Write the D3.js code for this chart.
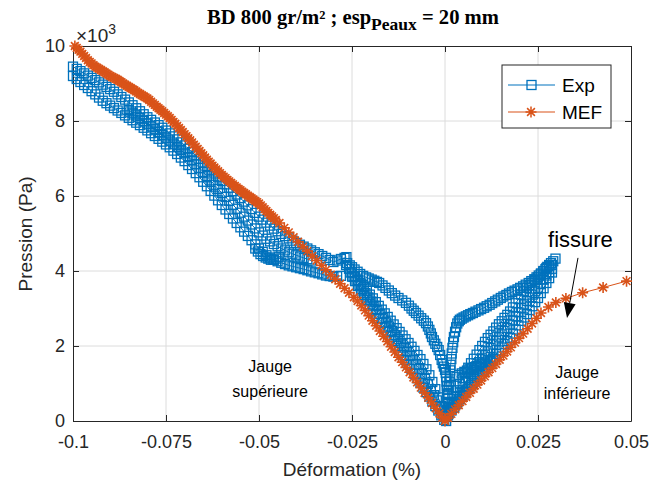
<!DOCTYPE html>
<html><head><meta charset="utf-8">
<script src="https://cdn.jsdelivr.net/npm/d3@7"></script>
<style>body{margin:0;background:#fff}</style>
</head><body>
<svg id="c" width="670" height="491"></svg>
<script>
// ---------------- DATA ----------------
const xTicks = [-0.1, -0.075, -0.05, -0.025, 0, 0.025, 0.05];
const xTickLabels = ["-0.1", "-0.075", "-0.05", "-0.025", "0", "0.025", "0.05"];
const yTicks = [0, 2000, 4000, 6000, 8000, 10000];
const yTickLabels = ["0", "2", "4", "6", "8", "10"];
const seriesNames = ["Exp", "MEF"];

// MEF (x in %, pressure in Pa)
const mef = [
[-0.0995,10000],[-0.0990,9950],[-0.0985,9900],[-0.0980,9850],[-0.0975,9790],[-0.0970,9735],[-0.0965,9680],[-0.0960,9620],
[-0.0955,9575],[-0.0950,9535],[-0.0945,9490],[-0.0940,9450],[-0.0935,9420],[-0.0930,9390],[-0.0925,9360],[-0.0920,9330],
[-0.0915,9300],[-0.0910,9265],[-0.0905,9235],[-0.0900,9200],[-0.0895,9175],[-0.0890,9150],[-0.0885,9125],[-0.0880,9100],
[-0.0875,9065],[-0.0870,9035],[-0.0865,9000],[-0.0860,8970],[-0.0855,8940],[-0.0850,8910],[-0.0845,8880],[-0.0840,8850],
[-0.0835,8820],[-0.0830,8785],[-0.0825,8750],[-0.0820,8720],[-0.0815,8690],[-0.0810,8660],[-0.0805,8630],[-0.0800,8600],
[-0.0795,8560],[-0.0790,8515],[-0.0785,8470],[-0.0780,8430],[-0.0775,8380],[-0.0770,8340],[-0.0765,8300],[-0.0760,8260],
[-0.0755,8215],[-0.0750,8170],[-0.0745,8125],[-0.0740,8080],[-0.0735,8030],[-0.0730,7975],[-0.0725,7925],[-0.0720,7870],
[-0.0715,7815],[-0.0710,7760],[-0.0705,7705],[-0.0700,7650],[-0.0695,7595],[-0.0690,7540],[-0.0685,7485],[-0.0680,7430],
[-0.0675,7370],[-0.0670,7315],[-0.0665,7255],[-0.0660,7200],[-0.0655,7140],[-0.0650,7085],[-0.0645,7025],[-0.0640,6970],
[-0.0635,6915],[-0.0630,6865],[-0.0625,6810],[-0.0620,6760],[-0.0615,6710],[-0.0610,6660],[-0.0605,6610],[-0.0600,6560],
[-0.0595,6515],[-0.0590,6475],[-0.0585,6430],[-0.0580,6390],[-0.0575,6350],[-0.0570,6310],[-0.0565,6270],[-0.0560,6230],
[-0.0555,6190],[-0.0550,6155],[-0.0545,6115],[-0.0540,6080],[-0.0535,6045],[-0.0530,6010],[-0.0525,5975],[-0.0520,5940],
[-0.0515,5905],[-0.0510,5870],[-0.0505,5835],[-0.0500,5800],[-0.0495,5750],[-0.0490,5700],[-0.0485,5650],[-0.0480,5600],
[-0.0475,5550],[-0.0470,5500],[-0.0465,5455],[-0.0460,5410],[-0.0455,5360],
[-0.0445,5280],[-0.0432,5150],[-0.0420,5030],[-0.0407,4900],[-0.0395,4780],[-0.0382,4650],[-0.0370,4530],[-0.0357,4400],
[-0.0345,4280],[-0.0332,4150],[-0.0320,4030],[-0.0307,3900],[-0.0295,3780],[-0.0282,3660],[-0.0270,3540],[-0.0258,3420],
[-0.0245,3300],[-0.0235,3200],[-0.0225,3080],[-0.0215,2950],[-0.0205,2810],[-0.0195,2675],[-0.0185,2540],[-0.0175,2400],
[-0.0165,2260],[-0.0155,2120],[-0.0145,1980],[-0.0135,1840],[-0.0125,1700],[-0.0115,1570],[-0.0105,1430],[-0.0095,1300],
[-0.0085,1160],[-0.0075,1030],[-0.0065,890],[-0.0055,750],[-0.0045,620],[-0.0035,480],[-0.0025,340],[-0.0015,200],
[-0.0007,90],[0,0],
[0.0008,80],[0.0017,190],[0.0027,310],[0.0037,420],[0.0047,530],[0.0057,640],[0.0067,750],[0.0077,860],[0.0087,970],
[0.0097,1080],[0.0107,1190],[0.0117,1300],[0.0127,1410],[0.0137,1520],[0.0147,1635],[0.0157,1745],[0.0167,1855],
[0.0177,1965],[0.0188,2090],[0.0199,2210],[0.0210,2330],[0.0222,2460],[0.0234,2600],[0.0246,2740],[0.0258,2880],
[0.0278,3040],[0.0298,3160],[0.0325,3270],[0.0370,3420],[0.0425,3560],[0.0488,3730]
];

// Exp: successive passes of the measured loading cycles (x in %, pressure in Pa)
const expUpperA = [
[-0.100,9450],[-0.099,9390],[-0.098,9330],[-0.097,9270],[-0.096,9210],[-0.095,9150],[-0.094,9090],[-0.093,9030],
[-0.092,8970],[-0.091,8910],[-0.090,8850],[-0.089,8780],[-0.088,8710],[-0.087,8640],[-0.086,8570],[-0.085,8495],
[-0.084,8420],[-0.083,8340],[-0.082,8260],[-0.081,8180],[-0.080,8100],[-0.079,8030],[-0.078,7960],[-0.077,7890],
[-0.076,7820],[-0.075,7745],[-0.074,7670],[-0.073,7590],[-0.072,7510],[-0.071,7430],[-0.070,7350],[-0.069,7260],
[-0.068,7170],[-0.067,7080],[-0.066,6990],[-0.065,6895],[-0.064,6800],[-0.063,6700],[-0.062,6600],[-0.061,6500],
[-0.060,6400],[-0.059,6310],[-0.058,6220],[-0.057,6130],[-0.056,6040],[-0.055,5945],[-0.054,5850],[-0.053,5750],
[-0.052,5650],[-0.051,5550],[-0.050,5450],[-0.049,5370],[-0.048,5290],[-0.047,5210],[-0.046,5130],[-0.045,5060],
[-0.044,4990],[-0.043,4930],[-0.042,4870],[-0.041,4810],[-0.040,4750],[-0.039,4700],[-0.038,4650],[-0.037,4600],
[-0.036,4550],[-0.035,4500],[-0.034,4450],[-0.033,4400],[-0.032,4350],[-0.031,4295],[-0.030,4240],[-0.029,4280],
[-0.028,4320],[-0.027,4350],[-0.0265,4370]
];
const expUpperB = [
[-0.100,9200],[-0.099,9120],[-0.098,9040],[-0.097,8960],[-0.096,8880],[-0.095,8795],[-0.094,8710],[-0.093,8625],
[-0.092,8540],[-0.091,8475],[-0.090,8410],[-0.089,8345],[-0.088,8280],[-0.087,8215],[-0.086,8150],[-0.085,8085],
[-0.084,8020],[-0.083,7955],[-0.082,7890],[-0.081,7820],[-0.080,7750],[-0.079,7675],[-0.078,7600],[-0.077,7525],
[-0.076,7450],[-0.075,7375],[-0.074,7300],[-0.073,7210],[-0.072,7120],[-0.071,7025],[-0.070,6930],[-0.069,6825],
[-0.068,6720],[-0.067,6610],[-0.066,6500],[-0.065,6380],[-0.064,6260],[-0.063,6135],[-0.062,6010],[-0.061,5885],
[-0.060,5760],[-0.059,5640],[-0.058,5520],[-0.057,5400],[-0.056,5280],[-0.055,5165],[-0.054,5050],[-0.053,4935],
[-0.052,4820],[-0.051,4710],[-0.050,4600],[-0.049,4510],[-0.048,4420],[-0.047,4360],[-0.046,4300],[-0.045,4260],
[-0.044,4220],[-0.043,4185],[-0.042,4150],[-0.041,4125],[-0.040,4100],[-0.039,4075],[-0.038,4050],[-0.037,4020],
[-0.036,3990],[-0.035,3965],[-0.034,3940],[-0.033,3910],[-0.032,3880],[-0.031,3865],[-0.030,3850],[-0.029,3860],
[-0.028,3870]
];
const expUpperC = [
[-0.085,8290],[-0.084,8220],[-0.083,8150],[-0.082,8075],[-0.081,8000],[-0.080,7930],[-0.079,7855],[-0.078,7780],
[-0.077,7705],[-0.076,7630],[-0.075,7555],[-0.074,7480],[-0.073,7395],[-0.072,7310],[-0.071,7225],[-0.070,7140],
[-0.069,7045],[-0.068,6950],[-0.067,6850],[-0.066,6750],[-0.065,6640],[-0.064,6530],[-0.063,6415],[-0.062,6300],
[-0.061,6190],[-0.060,6080],[-0.059,5975],[-0.058,5870],[-0.057,5765],[-0.056,5660],[-0.055,5555],[-0.054,5450],
[-0.053,5345],[-0.052,5240],[-0.051,5135],[-0.050,5030],[-0.049,4945],[-0.048,4860],[-0.047,4790],[-0.046,4720],
[-0.045,4660],[-0.044,4600],[-0.043,4550],[-0.042,4500],[-0.041,4460],[-0.040,4420],[-0.039,4385],[-0.038,4350],
[-0.037,4315],[-0.036,4280]
];
const expBlob = [
[-0.0510,4600],[-0.0503,4520],[-0.0496,4450],[-0.0489,4400],[-0.0482,4360],[-0.0475,4330],[-0.0468,4300],
[-0.0461,4300],[-0.0454,4330],[-0.0447,4380]
];
const expDescentA = [
[-0.0250,3850],[-0.0242,3730],[-0.0234,3600],[-0.0226,3480],[-0.0218,3360],[-0.0210,3230],[-0.0202,3110],
[-0.0194,2990],[-0.0186,2860],[-0.0178,2740],[-0.0170,2620],[-0.0162,2490],[-0.0154,2370],[-0.0146,2250],
[-0.0138,2130],[-0.0130,2000],[-0.0122,1880],[-0.0114,1760],[-0.0106,1630],[-0.0098,1510],[-0.0090,1390],
[-0.0082,1260],[-0.0074,1140],[-0.0066,1020],[-0.0058,890],[-0.0050,770],[-0.0042,650],[-0.0034,520],
[-0.0026,400],[-0.0018,280],[-0.0010,150],[-0.0002,30]
];
const expDescentB = [
[-0.0254,3960],[-0.0246,3850],[-0.0238,3740],[-0.0230,3630],[-0.0222,3520],[-0.0214,3410],[-0.0206,3295],
[-0.0198,3185],[-0.0190,3075],[-0.0182,2960],[-0.0174,2850],[-0.0166,2740],[-0.0158,2630],[-0.0150,2520],
[-0.0142,2405],[-0.0134,2290],[-0.0126,2185],[-0.0118,2075],[-0.0110,1960],[-0.0102,1850],[-0.0094,1740],
[-0.0086,1625],[-0.0078,1510],[-0.0070,1390],[-0.0062,1255],[-0.0054,1125],[-0.0046,985],[-0.0038,845],
[-0.0030,690],[-0.0022,550],[-0.0014,370],[-0.0006,185]
];
const expDescentC = [
[-0.0266,4160],[-0.0258,4060],[-0.0250,3960],[-0.0242,3865],[-0.0234,3765],[-0.0226,3665],[-0.0218,3570],
[-0.0210,3470],[-0.0202,3370],[-0.0194,3270],[-0.0186,3170],[-0.0178,3070],[-0.0170,2970],[-0.0162,2870],
[-0.0154,2775],[-0.0146,2675],[-0.0138,2575],[-0.0130,2475],[-0.0122,2375],[-0.0114,2280],[-0.0106,2180],
[-0.0098,2080],[-0.0090,1980],[-0.0082,1870],[-0.0074,1760],[-0.0066,1650],[-0.0058,1520],[-0.0050,1380],
[-0.0042,1220],[-0.0034,1040],[-0.0026,850],[-0.0018,630],[-0.0010,400],[-0.0003,160]
];
const expOuter = [
[-0.0263,4210],[-0.0256,4150],[-0.0250,4100],[-0.0243,4040],[-0.0235,3980],[-0.0228,3920],[-0.0220,3870],
[-0.0212,3830],[-0.0205,3800],[-0.0197,3770],[-0.0190,3740],[-0.0183,3710],[-0.0177,3680],[-0.0168,3615],
[-0.0160,3550],[-0.0151,3480],[-0.0143,3410],[-0.0134,3345],[-0.0125,3280],[-0.0115,3215],[-0.0105,3150],
[-0.0097,3075],[-0.0090,3000],[-0.0084,2940],[-0.0078,2880],[-0.0071,2810],[-0.0064,2740],[-0.0057,2675],
[-0.0051,2610],[-0.0046,2520],[-0.0042,2430],[-0.0038,2335],[-0.0035,2240],[-0.0030,2150],[-0.0026,2060],
[-0.0021,1975],[-0.0017,1890],[-0.0013,1760],[-0.0009,1630],[-0.0006,1540],[-0.0003,1450],[0.0000,1365],
[0.0002,1280],[0.0003,1165],[0.0004,1050],[0.0005,940],[0.0005,830],[0.0007,715],[0.0008,600],[0.0009,485],
[0.0010,370],[0.0009,260],[0.0008,150],[0.0003,0]
];
const expRightLoop = [
[0.0003,150],[0.0005,300],[0.0007,450],[0.0008,600],[0.0009,750],[0.0010,900],[0.0012,1050],[0.0013,1200],
[0.0014,1350],[0.0015,1500],[0.0017,1650],[0.0018,1800],[0.0020,1950],[0.0022,2100],[0.0024,2240],[0.0027,2380],
[0.0030,2500],[0.0033,2600],[0.0037,2660],[0.0040,2700],[0.0045,2730],[0.0050,2760],[0.0056,2790],[0.0062,2820],
[0.0068,2850],[0.0075,2880],[0.0082,2915],[0.0090,2950],[0.0097,2985],[0.0105,3020],[0.0112,3060],[0.0120,3100],
[0.0127,3145],[0.0135,3190],[0.0142,3235],[0.0150,3280],[0.0157,3320],[0.0165,3360],[0.0172,3400],[0.0180,3440],
[0.0187,3475],[0.0195,3510],[0.0202,3550],[0.0210,3590],[0.0217,3635],[0.0225,3680],[0.0232,3730],[0.0240,3780],
[0.0246,3830],[0.0252,3880],[0.0258,3935],[0.0264,3990],[0.0270,4050],[0.0275,4110],[0.0280,4160],[0.0285,4210],
[0.0291,4260],[0.0297,4330]
];
const expRightA = [
[0.0010,300],[0.00175,480],[0.0025,660],[0.00325,820],[0.0040,980],[0.00475,1140],[0.0055,1290],[0.00625,1420],
[0.0070,1540],[0.00775,1660],[0.0085,1770],[0.00925,1890],[0.0100,2000],[0.01075,2110],[0.0115,2210],[0.01225,2300],
[0.0130,2390],[0.01375,2490],[0.0145,2580],[0.01525,2660],[0.0160,2750],[0.01675,2830],[0.0175,2920],[0.01825,3030],
[0.0190,3140],[0.01975,3250],[0.0205,3370],[0.02125,3460],[0.0220,3550],[0.02275,3620],[0.0235,3690],[0.02425,3760],
[0.0250,3830],[0.02575,3910],[0.0265,4000],[0.02725,4080],[0.0280,4130],[0.02875,4160]
];
const expRightB = [
[0.0010,250],[0.00175,380],[0.0025,510],[0.00325,640],[0.0040,780],[0.00475,910],[0.0055,1030],[0.00625,1140],
[0.0070,1250],[0.00775,1360],[0.0085,1460],[0.00925,1570],[0.0100,1670],[0.01075,1770],[0.0115,1860],[0.01225,1950],
[0.0130,2040],[0.01375,2140],[0.0145,2230],[0.01525,2310],[0.0160,2400],[0.01675,2480],[0.0175,2570],[0.01825,2680],
[0.0190,2790],[0.01975,2900],[0.0205,3020],[0.02125,3110],[0.0220,3200],[0.02275,3290],[0.0235,3370],[0.02425,3460],
[0.0250,3550],[0.02575,3660],[0.0265,3770],[0.02725,3880],[0.0280,3970],[0.02875,4060]
];
const expRightC = [
[0.0010,200],[0.00175,280],[0.0025,360],[0.00325,460],[0.0040,580],[0.00475,680],[0.0055,770],[0.00625,860],
[0.0070,960],[0.00775,1060],[0.0085,1160],[0.00925,1250],[0.0100,1340],[0.01075,1430],[0.0115,1510],[0.01225,1600],
[0.0130,1690],[0.01375,1790],[0.0145,1880],[0.01525,1960],[0.0160,2050],[0.01675,2130],[0.0175,2220],[0.01825,2330],
[0.0190,2440],[0.01975,2550],[0.0205,2670],[0.02125,2760],[0.0220,2850],[0.02275,2960],[0.0235,3060],[0.02425,3170],
[0.0250,3280],[0.02575,3410],[0.0265,3540],[0.02725,3680],[0.0280,3810],[0.02875,3960]
];
const expTail = [
[0.0010,250],[0.0017,330],[0.0024,420],[0.0031,500],[0.0038,590],[0.0045,680],[0.0052,760],[0.0059,840],
[0.0066,920],[0.0073,1000],[0.0080,1080],[0.0087,1160],[0.0094,1240],[0.0101,1320],[0.0108,1400],[0.0115,1480],
[0.0122,1560],[0.0129,1650],[0.0122,1620],[0.0115,1590],[0.0108,1560],[0.0101,1530],[0.0094,1500],[0.0087,1470],
[0.0080,1440],[0.0073,1410],[0.0066,1380],[0.0059,1345],[0.0052,1310],[0.0045,1270],[0.0038,1230],[0.0031,1180]
];
const expSegments = [expUpperA, expUpperB, expUpperC, expBlob, expDescentA, expDescentB, expDescentC,
  expOuter, expRightLoop, expRightA, expRightB, expRightC, expTail];

// ---------------- DRAW ----------------
const blue = "#0072BD", orange = "#D95319", axisCol = "#262626";
const font = "'Liberation Sans', Arial, Helvetica, sans-serif";
const svg = d3.select("#c");
const x = d3.scaleLinear().domain([-0.1, 0.05]).range([73, 631]);
const y = d3.scaleLinear().domain([0, 10000]).range([421, 46]);

svg.append("rect").attr("width", 670).attr("height", 491).attr("fill", "#fff");

// grid
const grid = svg.append("g").attr("stroke", "#dcdcdc").attr("stroke-width", 1);
grid.selectAll(".gx").data(xTicks.slice(1, -1)).join("line")
  .attr("x1", d => x(d)).attr("x2", d => x(d)).attr("y1", y(0)).attr("y2", y(10000));
grid.selectAll(".gy").data(yTicks.slice(1, -1)).join("line")
  .attr("y1", d => y(d)).attr("y2", d => y(d)).attr("x1", x(-0.1)).attr("x2", x(0.05));

// axes
function styleAxis(g) {
  g.selectAll("path,line").attr("stroke", axisCol);
  g.selectAll("text").attr("fill", "#262626").style("font-family", font).style("font-size", "18px");
}
svg.append("g").attr("transform", `translate(0,${y(0)})`)
  .call(d3.axisBottom(x).tickValues(xTicks).tickFormat((d, i) => xTickLabels[i]).tickSizeInner(-6).tickSizeOuter(0).tickPadding(14))
  .call(styleAxis);
svg.append("g").attr("transform", `translate(0,${y(10000)})`)
  .call(d3.axisTop(x).tickValues(xTicks).tickFormat("").tickSizeInner(-6).tickSizeOuter(0))
  .call(styleAxis);
svg.append("g").attr("transform", `translate(${x(-0.1)},0)`)
  .call(d3.axisLeft(y).tickValues(yTicks).tickFormat((d, i) => yTickLabels[i]).tickSizeInner(-6).tickSizeOuter(0).tickPadding(8))
  .call(styleAxis);
svg.append("g").attr("transform", `translate(${x(0.05)},0)`)
  .call(d3.axisRight(y).tickValues(yTicks).tickFormat("").tickSizeInner(-6).tickSizeOuter(0))
  .call(styleAxis);

// exponent
const ex = svg.append("text").attr("x", x(-0.1) + 3).attr("y", y(10000) - 4)
  .style("font-family", font).style("font-size", "19px").attr("fill", "#262626");
ex.append("tspan").text("\u00d710");
ex.append("tspan").attr("dy", -8).style("font-size", "14px").text("3");

const line = d3.line().x(d => x(d[0])).y(d => y(d[1]));
const starPath = "M-5.5,0H5.5M0,-5.5V5.5M-3.9,-3.9L3.9,3.9M-3.9,3.9L3.9,-3.9";

// Exp
const gExp = svg.append("g");
expSegments.forEach(seg => {
  gExp.append("path").attr("d", line(seg)).attr("fill", "none").attr("stroke", blue).attr("stroke-width", 1);
  gExp.append("g").selectAll("rect").data(seg).join("rect")
    .attr("x", d => x(d[0]) - 4.5).attr("y", d => y(d[1]) - 4.5).attr("width", 9).attr("height", 9)
    .attr("fill", "none").attr("stroke", blue).attr("stroke-width", 1.3);
});

// MEF
const gMef = svg.append("g");
gMef.append("path").attr("d", line(mef)).attr("fill", "none").attr("stroke", orange).attr("stroke-width", 1);
gMef.selectAll(".st").data(mef).join("path")
  .attr("transform", d => `translate(${x(d[0])},${y(d[1])})`)
  .attr("d", starPath).attr("fill", "none").attr("stroke", orange).attr("stroke-width", 1.6);

// legend
const lg = svg.append("g");
lg.append("rect").attr("x", 502).attr("y", 65).attr("width", 109).attr("height", 63)
  .attr("fill", "#fff").attr("stroke", axisCol).attr("stroke-width", 1);
[0, 1].forEach(i => {
  const yy = 85 + i * 27, col = i === 0 ? blue : orange;
  lg.append("line").attr("x1", 508).attr("x2", 555).attr("y1", yy).attr("y2", yy).attr("stroke", col).attr("stroke-width", 1.2);
  if (i === 0) lg.append("rect").attr("x", 527).attr("y", yy - 4.5).attr("width", 9).attr("height", 9).attr("fill", "none").attr("stroke", col).attr("stroke-width", 1.3);
  else lg.append("path").attr("d", starPath).attr("transform", `translate(531,${yy})`).attr("fill", "none").attr("stroke", col).attr("stroke-width", 1.5);
  lg.append("text").attr("x", 562).attr("y", yy + 6.5).text(seriesNames[i])
    .style("font-family", font).style("font-size", "19px").attr("fill", "#000");
});

// title
const t = svg.append("text").attr("transform", "translate(353,24) scale(1.03,1)").attr("text-anchor", "middle")
  .style("font-family", "'Liberation Serif', 'Times New Roman', serif").style("font-weight", "bold").style("font-size", "20px");
t.append("tspan").text("BD 800 gr/m\u00b2 ; esp");
t.append("tspan").attr("dy", 6).style("font-size", "17px").text("Peaux");
t.append("tspan").attr("dy", -6).text(" = 20 mm");

// axis labels
svg.append("text").attr("x", 352).attr("y", 476).attr("text-anchor", "middle")
  .style("font-family", font).style("font-size", "19px").attr("fill", "#262626").text("Déformation (%)");
svg.append("text").attr("transform", "translate(32,234) rotate(-90)").attr("text-anchor", "middle")
  .style("font-family", font).style("font-size", "19px").attr("fill", "#262626").text("Pression (Pa)");

// annotations (data coordinates)
function note(lines, cx, ys, size) {
  lines.forEach((s, i) => svg.append("text").attr("x", x(cx)).attr("y", y(ys[i])).attr("text-anchor", "middle")
    .style("font-family", font).style("font-size", size + "px").attr("fill", "#000").text(s));
}
note(["Jauge", "supérieure"], -0.047, [1310, 640], 16);
note(["Jauge", "inférieure"], 0.0355, [1150, 590], 16);
svg.append("text").attr("x", x(0.0277)).attr("y", y(4640))
  .style("font-family", font).style("font-size", "22px").attr("fill", "#000").text("fissure");
// arrow
const a0 = [x(0.03575), y(4350)], a1 = [x(0.0328), y(2750)];
const ang = Math.atan2(a1[1] - a0[1], a1[0] - a0[0]);
const hl = 15, hw = 6;
const bx = a1[0] - hl * Math.cos(ang), by = a1[1] - hl * Math.sin(ang);
svg.append("line").attr("x1", a0[0]).attr("y1", a0[1]).attr("x2", bx).attr("y2", by).attr("stroke", "#000").attr("stroke-width", 1);
svg.append("path").attr("d", `M${a1[0]},${a1[1]}L${bx + hw * Math.sin(ang)},${by - hw * Math.cos(ang)}L${bx - hw * Math.sin(ang)},${by + hw * Math.cos(ang)}Z`)
  .attr("fill", "#000");
</script>
</body></html>
